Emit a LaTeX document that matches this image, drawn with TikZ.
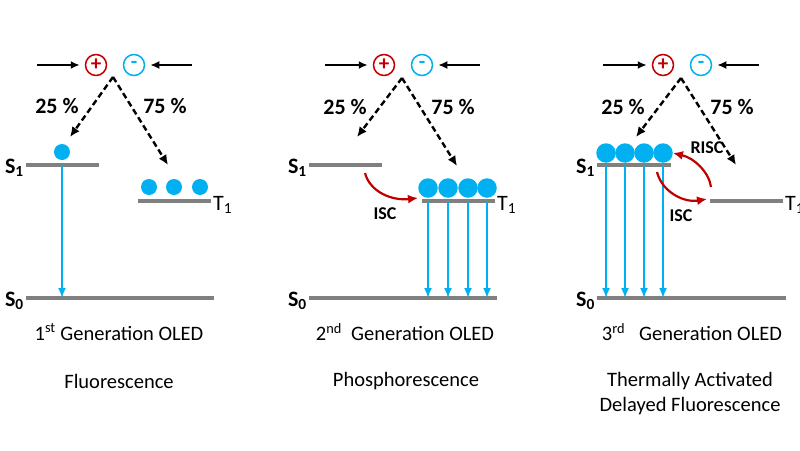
\documentclass[tikz,border=0pt]{standalone}
\usepackage{fontspec}
\setmainfont{Carlito}
\usepackage{tikz}
\usetikzlibrary{arrows,arrows.meta}
\usetikzlibrary{positioning}
\definecolor{holered}{HTML}{C00000}
\definecolor{elecblue}{HTML}{00B0F0}
\definecolor{levelgray}{HTML}{808080}
\tikzset{auto, >=latex', x=1pt, y=-1pt, font=\fontsize{18}{20}\selectfont}
\tikzstyle{level} = [draw=levelgray, line width=4pt]
\tikzstyle{exciton} = [circle, fill=elecblue, inner sep=0pt, minimum size=16pt]
\tikzstyle{packed} = [circle, fill=elecblue, inner sep=0pt, minimum size=19.5pt]
\tikzstyle{hole} = [draw=holered, circle, line width=1.5pt, minimum size=21pt, inner sep=0pt, text=holered, font=\fontsize{21}{21}\selectfont\bfseries]
\tikzstyle{electron} = [draw=elecblue, circle, line width=1.5pt, minimum size=21pt, inner sep=0pt, text=elecblue, font=\fontsize{21}{21}\selectfont\bfseries]
\tikzstyle{inject} = [-{Latex[length=9pt,width=8pt]}, line width=1.8pt, shorten >=5pt]
\tikzstyle{capture} = [-{Latex[length=10pt,width=9pt]}, line width=2.4pt, dash pattern=on 6pt off 3.5pt]
\tikzstyle{decay} = [-{Latex[length=10pt,width=8pt]}, draw=elecblue, line width=1.8pt]
\tikzstyle{crossing} = [-{Latex[length=10pt,width=9pt]}, draw=holered, line width=2.2pt]
\tikzstyle{share} = [font=\fontsize{22}{22}\selectfont\bfseries]
\tikzstyle{statelabel} = [inner sep=1pt, font=\fontsize{22}{22}\selectfont\bfseries]
\tikzstyle{tripletlabel} = [inner sep=1pt, font=\fontsize{22}{22}\selectfont]
\tikzstyle{isclabel} = [font=\fontsize{18}{18}\selectfont\bfseries]
\tikzstyle{caption} = [align=center, font=\fontsize{20.5}{25}\selectfont]

\begin{document}
\begin{tikzpicture}
			\useasboundingbox (0,0) rectangle (800,450);

			% 1st generation: fluorescence
			\node [hole] (p1plus) at (96,65) {+};
			\node [electron] (p1minus) at (134,65) {-};
			\coordinate (p1inl) at (37,65);
			\coordinate (p1inr) at (192,65);
			\coordinate (p1apex) at (113,77);
			\coordinate (p1tos) at (70,137);
			\coordinate (p1tot) at (168,165);
			\coordinate (p1s1a) at (26,165);
			\coordinate (p1s1b) at (99,165);
			\coordinate (p1t1a) at (138,201);
			\coordinate (p1t1b) at (211,201);
			\coordinate (p1s0a) at (26,298);
			\coordinate (p1s0b) at (214,298);

			\draw [inject] (p1inl) -- (p1plus);
			\draw [inject] (p1inr) -- (p1minus);
			\draw [capture] (p1apex) -- (p1tos);
			\draw [capture] (p1apex) -- (p1tot);
			\node [share] (p1singlet) at (57,106) {25 \%};
			\node [share] (p1triplet) at (165,106) {75 \%};

			\draw [level] (p1s1a) -- (p1s1b);
			\draw [level] (p1t1a) -- (p1t1b);
			\draw [level] (p1s0a) -- (p1s0b);
			\node [statelabel, left=1pt of p1s1a, yshift=-3pt] (p1s1) {S\textsubscript{1}};
			\node [tripletlabel, right=1pt of p1t1b, yshift=-4pt] (p1t1) {T\textsubscript{1}};
			\node [statelabel, left=1pt of p1s0a, yshift=-3pt] (p1s0) {S\textsubscript{0}};

			\node [exciton] (p1e1) at (62,152) {};
			\node [exciton] (p1e2) at (149,187) {};
			\node [exciton] (p1e3) at (174,187) {};
			\node [exciton] (p1e4) at (200,187) {};
			\draw [decay] (p1e1 |- p1s1a) -- (p1e1 |- p1s0a);

			\node [caption] (p1gen) at (119,332) {1\textsuperscript{st} Generation OLED};
			\node [caption] (p1name) at (119,381) {Fluorescence};

			% 2nd generation: phosphorescence
			\node [hole] (p2plus) at (384,65) {+};
			\node [electron] (p2minus) at (422,65) {-};
			\coordinate (p2inl) at (325,65);
			\coordinate (p2inr) at (480,65);
			\coordinate (p2apex) at (402,78);
			\coordinate (p2tos) at (357,137);
			\coordinate (p2tot) at (457,166);
			\coordinate (p2s1a) at (309,165);
			\coordinate (p2s1b) at (382,165);
			\coordinate (p2t1a) at (422,201);
			\coordinate (p2t1b) at (495,201);
			\coordinate (p2s0a) at (309,298);
			\coordinate (p2s0b) at (497,298);

			\draw [inject] (p2inl) -- (p2plus);
			\draw [inject] (p2inr) -- (p2minus);
			\draw [capture] (p2apex) -- (p2tos);
			\draw [capture] (p2apex) -- (p2tot);
			\node [share] (p2singlet) at (345,107) {25 \%};
			\node [share] (p2triplet) at (453,107) {75 \%};

			\draw [level] (p2s1a) -- (p2s1b);
			\draw [level] (p2t1a) -- (p2t1b);
			\draw [level] (p2s0a) -- (p2s0b);
			\node [statelabel, left=1pt of p2s1a, yshift=-3pt] (p2s1) {S\textsubscript{1}};
			\node [tripletlabel, right=1pt of p2t1b, yshift=-4pt] (p2t1) {T\textsubscript{1}};
			\node [statelabel, left=1pt of p2s0a, yshift=-3pt] (p2s0) {S\textsubscript{0}};

			\node [packed] (p2e1) at (428,188) {};
			\node [packed] (p2e2) at (448,188) {};
			\node [packed] (p2e3) at (468,188) {};
			\node [packed] (p2e4) at (487,188) {};
			\draw [decay] (p2e1 |- p2t1a) -- (p2e1 |- p2s0a);
			\draw [decay] (p2e2 |- p2t1a) -- (p2e2 |- p2s0a);
			\draw [decay] (p2e3 |- p2t1a) -- (p2e3 |- p2s0a);
			\draw [decay] (p2e4 |- p2t1a) -- (p2e4 |- p2s0a);

			\coordinate (p2iscfrom) at (365,173);
			\coordinate (p2iscto) at (418,198);
			\draw [crossing] (p2iscfrom) .. controls (370,192) and (392,201) .. (p2iscto);
			\node [isclabel] (p2isc) at (385,214) {ISC};

			\node [caption] (p2gen) at (405,332) {2\textsuperscript{nd}\ \ Generation OLED};
			\node [caption] (p2name) at (406,381) {Phosphorescence};

			% 3rd generation: TADF
			\node [hole] (p3plus) at (663,65) {+};
			\node [electron] (p3minus) at (701,65) {-};
			\coordinate (p3inl) at (603,65);
			\coordinate (p3inr) at (759,65);
			\coordinate (p3apex) at (681,78);
			\coordinate (p3tos) at (636,137);
			\coordinate (p3tot) at (736,165);
			\coordinate (p3s1a) at (597,165);
			\coordinate (p3s1b) at (671,165);
			\coordinate (p3t1a) at (710,201);
			\coordinate (p3t1b) at (783,201);
			\coordinate (p3s0a) at (597,298);
			\coordinate (p3s0b) at (786,298);

			\draw [inject] (p3inl) -- (p3plus);
			\draw [inject] (p3inr) -- (p3minus);
			\draw [capture] (p3apex) -- (p3tos);
			\draw [capture] (p3apex) -- (p3tot);
			\node [share] (p3singlet) at (623,107) {25 \%};
			\node [share] (p3triplet) at (732,107) {75 \%};

			\draw [level] (p3s1a) -- (p3s1b);
			\draw [level] (p3t1a) -- (p3t1b);
			\draw [level] (p3s0a) -- (p3s0b);
			\node [statelabel, left=1pt of p3s1a, yshift=-3pt] (p3s1) {S\textsubscript{1}};
			\node [tripletlabel, right=1pt of p3t1b, yshift=-4pt] (p3t1) {T\textsubscript{1}};
			\node [statelabel, left=1pt of p3s0a, yshift=-3pt] (p3s0) {S\textsubscript{0}};

			\node [packed] (p3e1) at (606,153) {};
			\node [packed] (p3e2) at (625,153) {};
			\node [packed] (p3e3) at (644,153) {};
			\node [packed] (p3e4) at (663,153) {};
			\draw [decay] (p3e1 |- p3s1a) -- (p3e1 |- p3s0a);
			\draw [decay] (p3e2 |- p3s1a) -- (p3e2 |- p3s0a);
			\draw [decay] (p3e3 |- p3s1a) -- (p3e3 |- p3s0a);
			\draw [decay] (p3e4 |- p3s1a) -- (p3e4 |- p3s0a);

			\coordinate (p3iscfrom) at (657,172);
			\coordinate (p3iscto) at (707,199);
			\coordinate (p3riscfrom) at (711,187);
			\draw [crossing] (p3iscfrom) .. controls (662,192) and (684,203) .. (p3iscto);
			\draw [crossing] (p3riscfrom) .. controls (709,172) and (694,158) .. (p3e4.east);
			\node [isclabel] (p3isc) at (681,216) {ISC};
			\node [isclabel] (p3risc) at (707,148) {RISC};

			\node [caption] (p3gen) at (692,332) {3\textsuperscript{rd}\ \ \ Generation OLED};
			\node [caption] (p3name) at (690,394) {Thermally Activated\\Delayed Fluorescence};
\end{tikzpicture}
\end{document}
